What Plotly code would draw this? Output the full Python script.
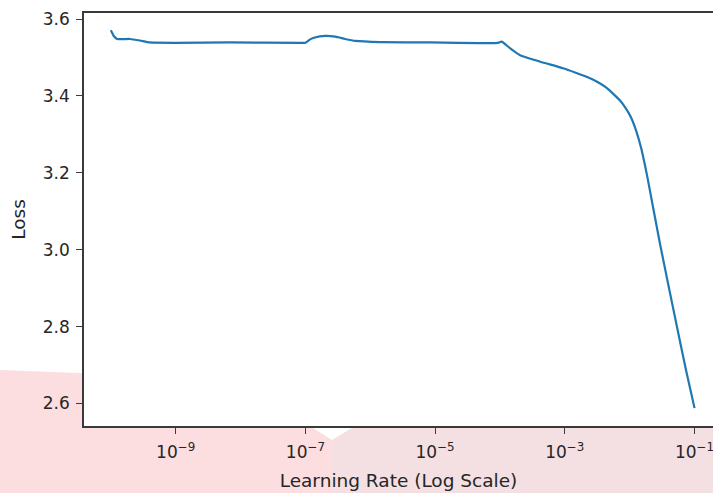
import plotly.graph_objects as go

# Learning-rate finder curve
learning_rate = [
    1.0e-10, 1.12e-10, 1.25e-10, 1.97e-10, 2.8e-10, 4.0e-10, 9.8e-10, 6.9e-9,
    8.3e-8, 9.9e-8, 1.18e-7, 1.4e-7, 2.0e-7, 2.9e-7, 4.1e-7, 5.9e-7, 1.42e-6,
    8.3e-6, 9.3e-5, 1.06e-4, 1.43e-4, 2.04e-4, 4.2e-4, 9.4e-4, 1.44e-3, 2.45e-3,
    3.3e-3, 4.32e-3, 5.53e-3, 7.10e-3, 8.78e-3, 1.05e-2, 1.25e-2, 1.50e-2, 1.85e-2,
    2.29e-2, 2.94e-2, 3.90e-2, 5.37e-2, 7.39e-2, 1.0e-1,
]
loss = [
    3.571, 3.555, 3.548, 3.548, 3.544, 3.539, 3.538, 3.539,
    3.538, 3.538, 3.547, 3.552, 3.556, 3.554, 3.548, 3.543, 3.540,
    3.539, 3.538, 3.541, 3.524, 3.506, 3.489, 3.472, 3.461, 3.446,
    3.435, 3.422, 3.406, 3.388, 3.367, 3.344, 3.311, 3.265, 3.194,
    3.111, 3.015, 2.913, 2.799, 2.687, 2.588,
]

x_tick_vals = [1e-9, 1e-7, 1e-5, 1e-3, 1e-1]
x_tick_text = ["10<sup>−9</sup>", "10<sup>−7</sup>", "10<sup>−5</sup>",
               "10<sup>−3</sup>", "10<sup>−1</sup>"]
y_tick_vals = [2.6, 2.8, 3.0, 3.2, 3.4, 3.6]
y_tick_text = ["2.6", "2.8", "3.0", "3.2", "3.4", "3.6"]

x_title = "Learning Rate (Log Scale)"
y_title = "Loss"

FONT = "DejaVu Sans"
TXT = "#262626"
AX = "#3a3a3a"

W, H = 713, 493
L, R, T, B = 84, 0, 13, 67
PW, PH = W - L - R, H - T - B


def px(x, y):
    """pixel -> paper coordinates for background decoration"""
    return (x - L) / PW, (H - B - y) / PH


def path(points):
    s = ""
    for i, (x, y) in enumerate(points):
        xp, yp = px(x, y)
        s += ("M" if i == 0 else "L") + f"{xp:.5f},{yp:.5f} "
    return s + "Z"


left_pink = [(0, 370), (84, 373.3), (84, 426), (310, 426), (332, 440), (332, 493), (0, 493)]
right_pink = [(332, 440), (355, 426), (713, 426), (713, 493), (332, 493)]

fig = go.Figure()
fig.add_trace(go.Scatter(
    x=learning_rate, y=loss, mode="lines",
    line=dict(color="#1f77b4", width=2.2, shape="spline", smoothing=0.5),
    showlegend=False, hoverinfo="x+y",
))

fig.update_layout(
    width=W, height=H, autosize=False,
    margin=dict(l=L, r=R, t=T, b=B, pad=0),
    paper_bgcolor="white", plot_bgcolor="white",
    font=dict(family=FONT, size=17, color=TXT),
    shapes=[
        dict(type="path", xref="paper", yref="paper", path=path(left_pink),
             fillcolor="#fcdde0", line=dict(width=0), layer="below"),
        dict(type="path", xref="paper", yref="paper", path=path(right_pink),
             fillcolor="#f4e0e2", line=dict(width=0), layer="below"),
    ],
    xaxis=dict(
        type="log", range=[-10.414, -0.715],
        tickvals=x_tick_vals, ticktext=x_tick_text,
        showgrid=False, zeroline=False,
        showline=True, linecolor=AX, linewidth=1.5, mirror=True,
        ticks="outside", ticklen=6, tickwidth=1.3, tickcolor=AX,
        ticklabelstandoff=4, ticklabeloverflow="allow",
        tickfont=dict(family=FONT, size=17, color=TXT),
        title=dict(text=x_title, font=dict(family=FONT, size=18.5, color=TXT), standoff=13),
    ),
    yaxis=dict(
        range=[2.5415, 3.6156],
        tickvals=y_tick_vals, ticktext=y_tick_text,
        showgrid=False, zeroline=False,
        showline=True, linecolor=AX, linewidth=1.5,
        ticks="outside", ticklen=6, tickwidth=1.3, tickcolor=AX,
        ticklabelstandoff=3,
        tickfont=dict(family=FONT, size=17, color=TXT),
        title=dict(text=y_title, font=dict(family=FONT, size=18.5, color=TXT), standoff=12),
    ),
)

fig.write_html(
    "out.html",
    config={"displayModeBar": False},
    post_script="document.body.style.margin='0';document.body.style.overflow='hidden';",
)
